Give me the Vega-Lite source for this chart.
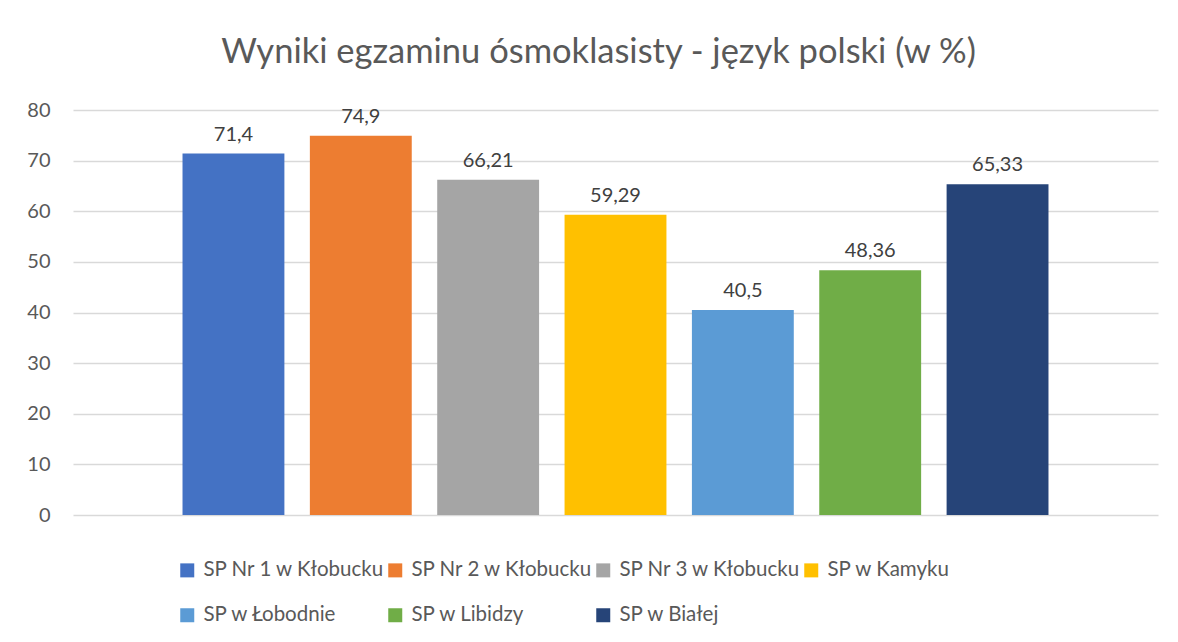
{
  "$schema": "https://vega.github.io/schema/vega-lite/v6.json",
  "autosize": "none",
  "width": 1085,
  "height": 405,
  "padding": {"left": 73, "top": 110, "right": 20, "bottom": 127},
  "background": "white",
  "config": {
    "font": "Lato",
    "view": {"stroke": null},
    "locale": {"number": {"decimal": ",", "thousands": " ", "grouping": [3], "currency": ["", " zł"]}}
  },
  "title": {
    "text": "Wyniki egzaminu ósmoklasisty - język polski (w %)",
    "anchor": "middle",
    "frame": "group",
    "dx": -17,
    "offset": 30,
    "fontSize": 34.5,
    "font": "Lato",
    "fontWeight": 400,
    "color": "#595959"
  },
  "data": {
    "values": [
      {"szkola": "SP Nr 1 w Kłobucku", "wynik": 71.4},
      {"szkola": "SP Nr 2 w Kłobucku", "wynik": 74.9},
      {"szkola": "SP Nr 3 w Kłobucku", "wynik": 66.21},
      {"szkola": "SP w Kamyku", "wynik": 59.29},
      {"szkola": "SP w Łobodnie", "wynik": 40.5},
      {"szkola": "SP w Libidzy", "wynik": 48.36},
      {"szkola": "SP w Białej", "wynik": 65.33}
    ]
  },
  "encoding": {
    "x": {
      "field": "szkola",
      "type": "nominal",
      "sort": null,
      "scale": {"paddingInner": 0.2, "paddingOuter": 0.86},
      "axis": null
    },
    "y": {
      "field": "wynik",
      "type": "quantitative",
      "scale": {"domain": [0, 80], "nice": false},
      "axis": {
        "title": null,
        "values": [0, 10, 20, 30, 40, 50, 60, 70, 80],
        "domain": false,
        "ticks": false,
        "labelFontSize": 20,
        "labelColor": "#595959",
        "labelPadding": 23,
        "gridColor": "#d9d9d9",
        "gridWidth": 1.3
      }
    }
  },
  "layer": [
    {
      "mark": {"type": "bar"},
      "encoding": {
        "color": {
          "field": "szkola",
          "type": "nominal",
          "sort": null,
          "scale": {
            "domain": ["SP Nr 1 w Kłobucku", "SP Nr 2 w Kłobucku", "SP Nr 3 w Kłobucku", "SP w Kamyku", "SP w Łobodnie", "SP w Libidzy", "SP w Białej"],
            "range": ["#4472C4", "#ED7D31", "#A5A5A5", "#FFC000", "#5B9BD5", "#70AD47", "#264478"]
          },
          "legend": {
            "title": null,
            "orient": "none",
            "legendX": 104,
            "legendY": 450,
            "direction": "horizontal",
            "columns": 4,
            "symbolType": "square",
            "symbolSize": 196,
            "symbolStrokeWidth": 0,
            "symbolOpacity": 1,
            "labelFontSize": 20.5,
            "labelColor": "#595959",
            "labelOffset": 6,
            "columnPadding": 0,
            "rowPadding": 24,
            "padding": 0,
            "labelLimit": 400
          }
        }
      }
    },
    {
      "mark": {"type": "text", "baseline": "alphabetic", "dy": -13, "fontSize": 20, "color": "#404040"},
      "encoding": {
        "text": {"field": "wynik", "type": "quantitative", "format": "~g"}
      }
    }
  ]
}
